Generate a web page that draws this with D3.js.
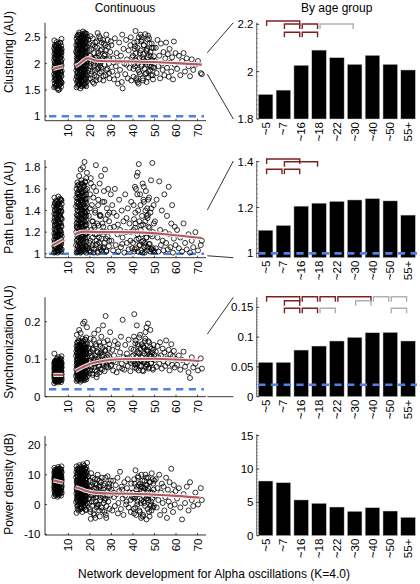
<!DOCTYPE html>
<html><head><meta charset="utf-8">
<script src="https://cdn.jsdelivr.net/npm/d3@7"></script>
<style>body{margin:0;background:#fff} text{font-family:"Liberation Sans",Arial,Helvetica,sans-serif;fill:#000}</style>
</head><body>
<svg id="c" width="420" height="584"></svg>
<script>
// ---------- DATA ----------
const xTicks = [10,20,30,40,50,60,70];
const ageGroups = ["~5","~7","~16","~18","~22","~30","~40","~50","55+"];

// subject ages (shared by the four measures)
const ages = [
// children
3.4,4.2,5.0,5.8,6.6, 3.7,4.5,5.3,6.1,6.9, 3.5,4.3,5.2,6.0,6.7, 3.6,4.4,5.1,5.9,6.8,
3.4,4.3,5.0,5.8,6.6, 3.8,4.6,5.4,6.2,6.9, 3.5,4.2,5.1,5.9,6.7, 3.6,4.5,5.3,6.1,6.8,
3.7,4.4,5.2,6.0,6.6, 3.4,4.2,5.0,5.8,6.9, 3.6,4.6,5.3,6.2,6.7, 3.5,4.3,5.1,5.9,6.8,
3.8,4.5,5.4,6.1,6.6, 3.4,4.4,5.0,6.0,6.9, 3.7,4.2,5.2,5.8,6.7, 3.5,4.6,5.3,6.1,6.8,
// adolescents
13.8,14.7,15.6,16.5,17.4,18.3, 14.1,15.0,15.9,16.8,17.7,18.6, 13.6,14.5,15.4,16.3,17.2,18.1,
13.9,14.8,15.7,16.6,17.5,18.4, 14.2,15.1,16.0,16.9,17.8,18.7, 13.7,14.6,15.5,16.4,17.3,18.2,
14.0,14.9,15.8,16.7,17.6,18.5, 13.8,14.8,15.6,16.6,17.4,18.4, 14.1,14.6,15.9,16.4,17.7,18.2,
13.9,14.7,15.7,16.5,17.5,18.3, 14.2,15.0,16.0,16.8,17.8,18.6, 13.6,14.5,15.4,16.3,17.2,18.1,
14.0,14.8,15.8,16.6,17.6,18.4, 13.7,14.9,15.5,16.7,17.3,18.5, 14.1,14.6,15.9,16.4,17.7,18.2,
13.8,15.1,15.6,16.9,17.4,18.7, 14.2,14.7,16.0,16.5,17.8,18.3, 13.9,15.0,15.7,16.8,17.5,18.6,
// 20-30
19.2,19.5,19.8,20.1,20.3,20.6,20.9,21.2,21.4,21.7,22.0,22.3,22.5,22.8,23.1,23.4,23.6,23.9,24.2,24.5,
24.8,25.0,25.3,25.6,25.9,26.2,26.5,26.8,27.0,27.3,27.6,27.9,28.2,28.5,28.8,29.1,29.4,29.7,
20.4,21.9,23.3,24.7,26.1,27.4,28.9,
// 30-40
30.0,30.4,30.8,31.2,31.6,32.0,32.4,32.8,33.2,33.6,34.0,34.4,34.8,35.2,35.6,36.0,36.4,36.8,37.2,37.6,
38.0,38.4,38.8,39.2,39.6,31.0,33.0,35.0,37.0,39.0,
// 40-50
40.0,40.3,40.6,40.9,41.2,41.5,41.8,42.1,42.4,42.7,43.0,43.3,43.6,43.9,44.2,44.5,44.8,45.1,45.4,45.7,
46.0,46.3,46.6,46.9,47.2,47.5,47.8,48.1,48.4,48.7,49.0,49.3,49.6,49.9,40.5,41.4,42.6,43.8,44.9,46.1,
47.0,48.2,49.4,41.0,45.5,
// 50-60
50.2,50.6,51.0,51.4,51.8,52.2,52.6,53.0,53.4,53.8,54.2,54.6,55.0,55.4,55.8,56.2,56.6,57.0,57.4,57.8,
58.2,58.6,59.0,59.4,59.8,
// 60-72
60.5,61.3,62.0,62.8,63.5,64.2,65.0,65.8,66.5,67.3,68.0,69.0,70.2,71.5,72.0,
// additional children
3.9,4.7,5.5,6.4, 4.0,4.8,5.6,6.3, 3.8,4.6,5.4,6.5, 3.9,4.8,5.5,6.3, 4.0,4.7,5.6,6.4,
3.8,4.6,5.4,6.5, 3.9,4.8,5.5,6.3, 4.0,4.7,5.6,6.4, 3.8,4.6,5.5,6.5, 3.9,4.7,5.4,6.3,
// additional adolescents
14.3,15.2,16.1,17.0,17.9, 14.4,15.3,16.2,17.1,18.0, 14.2,15.1,16.0,16.9,17.8, 14.3,15.3,16.1,17.1,17.9,
14.4,15.2,16.2,17.0,18.0, 14.2,15.1,16.0,16.9,17.8, 14.3,15.2,16.1,17.0,17.9, 14.4,15.3,16.2,17.1,18.0,
14.2,15.1,16.0,16.9,17.8, 14.3,15.3,16.1,17.1,17.9, 14.4,15.2,16.2,17.0,18.0, 14.2,15.1,16.0,16.9,17.8,
// additional 20-30
19.4,19.7,20.0,20.2,20.5,20.8,21.0,21.3,21.6,21.8,22.1,22.4,22.7,22.9,23.2,23.5,23.8,24.0,24.3,24.6,
24.9,25.2,25.5,25.8,26.3,26.7,27.2,27.7,28.3,29.0,
// additional 40-50
40.2,40.8,41.1,41.6,42.0,42.3,42.9,43.2,43.5,44.0,44.4,44.7,45.0,45.3,45.8,46.2,46.5,46.8,47.1,47.4,
47.7,48.0,48.5,48.9,49.2,49.7,42.2,44.1,46.4,48.6
];

const clustering = [
1.55,1.58,1.53,1.60,1.56, 1.62,1.59,1.66,1.61,1.64, 1.68,1.72,1.67,1.70,1.65, 1.74,1.71,1.77,1.73,1.76,
1.80,1.78,1.83,1.79,1.82, 1.85,1.88,1.84,1.87,1.86, 1.91,1.89,1.93,1.90,1.94, 1.96,1.99,1.95,1.98,1.97,
2.02,2.00,2.04,2.01,2.03, 2.07,2.09,2.06,2.10,2.08, 2.12,2.15,2.13,2.11,2.16, 2.18,2.17,2.20,2.19,2.21,
2.24,2.22,2.26,2.25,2.23, 2.29,2.31,2.28,2.30,2.27, 2.35,2.33,2.38,1.51,2.34, 2.44,2.41,1.50,2.39,2.47,
1.55,1.60,1.53,1.58,1.62,1.57, 1.64,1.61,1.67,1.63,1.59,1.66, 1.70,1.68,1.72,1.69,1.73,1.71,
1.76,1.74,1.78,1.75,1.79,1.77, 1.82,1.80,1.84,1.81,1.85,1.83, 1.87,1.89,1.86,1.90,1.88,1.91,
1.93,1.95,1.92,1.96,1.94,1.97, 1.99,2.01,1.98,2.02,2.00,2.03, 2.05,2.07,2.04,2.08,2.06,2.09,
2.11,2.13,2.10,2.14,2.12,2.15, 2.17,2.19,2.16,2.20,2.18,2.21, 2.23,2.25,2.22,2.26,2.24,2.27,
2.29,2.31,2.28,2.32,2.30,2.33, 2.35,2.37,2.34,2.38,2.36,2.39, 2.41,2.43,2.40,2.44,2.42,2.45,
2.47,2.49,2.46,2.50,2.48,2.51, 2.53,2.55,2.52,2.56,2.54,2.57, 2.20,2.59,1.95,2.61,2.58,2.05,
2.45,1.70,2.25,1.95,2.52,1.80,2.10,2.35,1.65,2.00,2.20,1.88,2.40,2.05,1.75,2.30,2.58,1.92,2.15,1.70,
2.48,2.02,1.85,2.27,2.10,1.68,2.38,1.98,2.18,1.78,2.55,2.08,1.90,2.32,2.00,1.72,2.22,2.42,
2.05,1.62,2.12,1.96,2.45,2.25,1.82,
2.35,1.85,2.10,1.70,2.48,1.95,2.20,1.78,2.05,2.40,1.88,2.15,1.65,1.53,2.28,2.00,1.80,2.45,2.08,1.72,
2.25,1.92,2.35,1.68,2.12,2.02,1.62,2.55,1.98,2.50,
2.15,1.75,2.40,1.95,2.62,2.05,1.68,2.30,1.88,2.50,2.10,1.80,2.25,1.98,2.45,1.72,2.18,2.35,1.90,2.56,
2.02,1.65,2.28,2.12,1.85,2.48,1.96,2.22,1.78,2.38,2.06,1.70,2.30,1.92,2.00,2.20,1.62,2.42,2.08,1.82,
2.53,2.14,1.93,2.33,2.04,
2.05,2.30,1.82,2.45,1.95,2.15,1.72,2.38,2.00,1.88,2.22,1.78,2.10,2.40,1.92,2.18,1.75,2.28,2.02,1.85,
2.12,1.70,2.42,1.98,2.20,
1.90,2.15,1.78,2.05,2.20,1.85,2.10,1.95,1.76,2.08,1.88,1.98,2.05,1.82,1.80,
1.57,1.60,1.58,1.62, 1.69,1.65,1.71,1.67, 1.77,1.80,1.75,1.78, 1.86,1.83,1.89,1.85, 1.94,1.92,1.97,1.93,
2.02,2.05,2.00,2.04, 2.11,2.09,2.14,2.12, 2.19,2.22,2.17,2.21, 2.27,2.25,2.30,2.28, 2.33,2.36,2.31,2.40,
1.58,1.62,1.57,1.60,1.63, 1.67,1.70,1.66,1.69,1.72, 1.75,1.78,1.74,1.77,1.80, 1.84,1.87,1.83,1.86,1.89,
1.92,1.95,1.91,1.94,1.97, 2.01,2.04,2.00,2.03,2.06, 2.09,2.12,2.08,2.11,2.14, 2.18,2.21,2.17,2.20,2.23,
2.26,2.29,2.25,2.28,2.31, 2.35,2.38,2.34,2.37,2.40, 2.43,2.46,2.42,2.45,2.48, 2.52,2.55,2.50,2.54,2.57,
1.88,2.38,2.15,1.72,2.00,2.28,1.85,2.48,2.08,1.95,1.78,2.32,2.12,1.68,2.42,1.90,2.20,2.02,2.52,1.82,
2.25,1.92,2.40,2.06,1.76,2.15,2.35,1.88,2.45,2.10,
1.90,2.28,2.08,1.72,2.42,2.00,1.84,2.20,2.55,1.95,2.12,1.68,2.35,2.04,1.80,2.26,1.98,2.46,1.74,2.16,
2.38,1.88,2.02,2.30,1.78,2.14,1.65,2.50,2.24,1.94
];

const pathLength = [
1.01,1.02,1.01,1.03,1.02, 1.04,1.05,1.03,1.06,1.04, 1.07,1.06,1.08,1.07,1.09, 1.10,1.09,1.11,1.10,1.12,
1.13,1.14,1.12,1.15,1.13, 1.16,1.17,1.15,1.18,1.16, 1.19,1.20,1.18,1.21,1.19, 1.23,1.22,1.24,1.22,1.25,
1.26,1.27,1.25,1.28,1.26, 1.30,1.29,1.31,1.29,1.32, 1.33,1.34,1.32,1.35,1.33, 1.37,1.36,1.38,1.36,1.39,
1.40,1.41,1.39,1.42,1.40, 1.44,1.43,1.45,1.44,1.46, 1.47,1.49,1.46,1.48,1.50, 1.52,1.48,1.53,1.51,1.49,
1.01,1.02,1.01,1.03,1.02,1.01, 1.04,1.05,1.03,1.06,1.04,1.05, 1.08,1.07,1.09,1.08,1.10,1.07,
1.12,1.11,1.13,1.12,1.14,1.11, 1.16,1.15,1.17,1.16,1.18,1.15, 1.20,1.19,1.21,1.20,1.22,1.19,
1.24,1.23,1.25,1.24,1.26,1.23, 1.28,1.27,1.29,1.28,1.30,1.27, 1.32,1.31,1.33,1.32,1.34,1.31,
1.36,1.35,1.37,1.36,1.38,1.35, 1.40,1.39,1.41,1.40,1.42,1.39, 1.44,1.43,1.45,1.44,1.46,1.43,
1.48,1.47,1.49,1.48,1.50,1.47, 1.52,1.51,1.53,1.52,1.54,1.51, 1.56,1.55,1.57,1.56,1.58,1.55,
1.60,1.59,1.61,1.62,1.63,1.60, 1.66,1.64,1.68,1.65,1.67,1.70, 1.25,1.72,1.78,1.80,1.85,1.75,
1.05,1.35,1.10,1.55,1.02,1.22,1.45,1.08,1.30,1.62,1.04,1.18,1.40,1.82,1.12,1.28,1.01,1.50,1.15,1.65,
1.06,1.35,1.20,1.03,1.48,1.25,1.58,1.10,1.78,1.32,1.02,1.42,1.16,1.60,1.07,1.38,1.24,1.55,
1.70,1.26,1.09,1.36,1.05,1.14,1.30,
1.12,1.45,1.03,1.25,1.60,1.08,1.35,1.18,1.02,1.50,1.22,1.06,1.40,1.15,1.30,1.01,1.55,1.20,1.10,1.42,
1.04,1.28,1.12,1.48,1.05,1.38,1.27,1.09,1.33,1.20,
1.10,1.45,1.02,1.62,1.28,1.05,1.72,1.18,1.40,1.83,1.08,1.55,1.22,1.03,1.35,1.65,1.12,1.48,1.01,1.30,
1.58,1.15,1.42,1.06,1.25,1.52,1.09,1.38,1.68,1.04,1.84,1.20,1.45,1.02,1.32,1.60,1.14,1.26,1.50,1.07,
1.36,1.18,1.03,1.24,1.10,
1.30,1.05,1.50,1.15,1.02,1.67,1.22,1.08,1.40,1.12,1.03,1.55,1.20,1.10,1.35,1.04,1.62,1.18,1.06,1.28,
1.45,1.01,1.14,1.25,1.08,
1.22,1.05,1.15,1.02,1.28,1.10,1.04,1.18,1.01,1.12,1.06,1.20,1.03,1.08,1.12,
1.02,1.03,1.02,1.04, 1.07,1.08,1.06,1.09, 1.12,1.11,1.13,1.12, 1.17,1.16,1.18,1.17, 1.22,1.21,1.23,1.21,
1.27,1.28,1.26,1.28, 1.31,1.32,1.30,1.33, 1.36,1.37,1.35,1.38, 1.41,1.42,1.40,1.43, 1.46,1.45,1.47,1.50,
1.02,1.03,1.02,1.04,1.03, 1.07,1.08,1.06,1.09,1.07, 1.13,1.12,1.14,1.13,1.15, 1.18,1.19,1.17,1.20,1.18,
1.24,1.23,1.25,1.24,1.26, 1.29,1.30,1.28,1.31,1.29, 1.35,1.34,1.36,1.35,1.37, 1.40,1.41,1.39,1.42,1.40,
1.46,1.45,1.47,1.46,1.48, 1.51,1.52,1.50,1.53,1.51, 1.57,1.56,1.58,1.57,1.59, 1.63,1.62,1.65,1.64,1.66,
1.20,1.03,1.42,1.12,1.65,1.05,1.30,1.15,1.52,1.01,1.24,1.38,1.08,1.58,1.18,1.02,1.45,1.26,1.10,1.35,
1.04,1.72,1.14,1.28,1.06,1.48,1.20,1.03,1.36,1.12,
1.22,1.04,1.38,1.13,1.55,1.02,1.30,1.08,1.45,1.18,1.01,1.27,1.62,1.06,1.40,1.15,1.03,1.33,1.50,1.09,
1.24,1.02,1.42,1.16,1.05,1.28,1.75,1.11,1.35,1.04
];

const synchronization = [
0.036,0.040,0.038,0.042,0.039, 0.044,0.041,0.046,0.043,0.045, 0.048,0.050,0.047,0.049,0.051, 0.053,0.052,0.055,0.054,0.052,
0.057,0.056,0.058,0.055,0.059, 0.060,0.062,0.061,0.063,0.060, 0.064,0.066,0.065,0.063,0.067, 0.068,0.069,0.067,0.070,0.068,
0.072,0.071,0.073,0.070,0.074, 0.075,0.077,0.076,0.074,0.078, 0.079,0.080,0.078,0.081,0.079, 0.083,0.082,0.084,0.083,0.085,
0.087,0.086,0.088,0.086,0.089, 0.090,0.092,0.091,0.093,0.090, 0.095,0.094,0.097,0.096,0.099, 0.115,0.101,0.105,0.098,0.108,
0.042,0.045,0.040,0.047,0.044,0.046, 0.049,0.051,0.048,0.052,0.050,0.053, 0.055,0.057,0.054,0.058,0.056,0.059,
0.061,0.063,0.060,0.064,0.062,0.065, 0.067,0.069,0.066,0.070,0.068,0.071, 0.073,0.075,0.072,0.076,0.074,0.077,
0.079,0.081,0.078,0.082,0.080,0.083, 0.085,0.087,0.084,0.088,0.086,0.089, 0.091,0.093,0.090,0.094,0.092,0.095,
0.097,0.099,0.096,0.100,0.098,0.101, 0.103,0.105,0.102,0.106,0.104,0.107, 0.109,0.111,0.108,0.112,0.110,0.113,
0.115,0.117,0.114,0.118,0.116,0.119, 0.121,0.123,0.120,0.124,0.122,0.125, 0.128,0.130,0.127,0.131,0.129,0.132,
0.135,0.138,0.134,0.140,0.137,0.142, 0.145,0.150,0.148,0.155,0.152,0.158, 0.165,0.178,0.170,0.195,0.200,0.185,
0.075,0.130,0.062,0.095,0.155,0.080,0.110,0.058,0.125,0.088,0.168,0.070,0.102,0.140,0.052,0.092,0.118,0.178,0.083,0.065,
0.135,0.098,0.160,0.072,0.112,0.090,0.145,0.068,0.122,0.215,0.085,0.105,0.150,0.078,0.128,0.095,0.172,0.082,
0.120,0.100,0.060,0.115,0.190,0.093,0.108,
0.085,0.125,0.070,0.110,0.148,0.092,0.065,0.132,0.100,0.078,0.118,0.160,0.088,0.205,0.105,0.072,0.138,0.095,0.115,0.082,
0.152,0.098,0.068,0.128,0.108,0.095,0.140,0.075,0.102,0.090,
0.095,0.125,0.220,0.078,0.150,0.105,0.190,0.088,0.135,0.070,0.115,0.165,0.098,0.082,0.140,0.110,0.068,0.130,0.092,0.155,
0.102,0.185,0.085,0.120,0.075,0.145,0.108,0.178,0.090,0.128,0.100,0.072,0.138,0.112,0.160,0.083,0.118,0.097,0.132,0.080,
0.195,0.106,0.125,0.087,0.148,
0.098,0.120,0.080,0.135,0.105,0.088,0.145,0.110,0.075,0.128,0.095,0.118,0.082,0.150,0.102,0.090,0.125,0.070,0.112,0.140,
0.085,0.108,0.122,0.078,0.100,
0.085,0.110,0.072,0.098,0.120,0.080,0.092,0.065,0.050,0.105,0.078,0.088,0.070,0.102,0.075,
0.040,0.043,0.041,0.044, 0.047,0.049,0.046,0.050, 0.053,0.055,0.052,0.056, 0.059,0.061,0.058,0.062, 0.065,0.067,0.064,0.068,
0.071,0.073,0.070,0.074, 0.077,0.079,0.076,0.080, 0.083,0.085,0.082,0.086, 0.089,0.091,0.088,0.092, 0.095,0.097,0.094,0.102,
0.045,0.048,0.044,0.047,0.050, 0.054,0.057,0.053,0.056,0.059, 0.063,0.066,0.062,0.065,0.068, 0.072,0.075,0.071,0.074,0.077,
0.081,0.084,0.080,0.083,0.086, 0.090,0.093,0.089,0.092,0.095, 0.099,0.102,0.098,0.101,0.104, 0.108,0.111,0.107,0.110,0.113,
0.117,0.120,0.116,0.119,0.122, 0.126,0.129,0.125,0.128,0.131, 0.135,0.138,0.134,0.137,0.140, 0.144,0.148,0.143,0.147,0.152,
0.090,0.115,0.070,0.140,0.085,0.105,0.062,0.128,0.095,0.152,0.078,0.110,0.088,0.135,0.068,0.120,0.100,0.082,0.145,0.092,
0.074,0.118,0.108,0.130,0.086,0.098,0.125,0.080,0.112,0.140,
0.110,0.088,0.142,0.075,0.120,0.098,0.158,0.082,0.128,0.105,0.070,0.135,0.092,0.115,0.172,0.085,0.122,0.100,0.148,0.078,
0.112,0.132,0.090,0.118,0.076,0.102,0.140,0.095,0.125,0.108
];

const powerDensity = [
2.8,3.2,2.6,3.5,3.0, 3.8,4.1,3.6,4.3,3.9, 4.6,4.8,4.4,5.0,4.7, 5.3,5.1,5.5,5.2,5.6,
5.9,6.1,5.8,6.2,6.0, 6.5,6.4,6.7,6.6,6.3, 7.0,7.2,6.9,7.1,7.3, 7.6,7.5,7.8,7.4,7.7,
8.1,8.0,8.3,8.2,7.9, 8.6,8.8,8.5,8.7,8.4, 9.1,9.0,9.3,9.2,8.9, 9.6,9.8,9.5,9.7,9.4,
10.1,10.3,10.0,10.2,9.9, 10.7,10.6,10.9,10.5,10.8, 11.3,11.1,11.5,11.2,11.6, 12.3,11.8,12.6,12.0,12.8,
-2.8,-2.0,-1.5,-2.5,-1.0,-1.8, -0.5,0.0,-0.8,0.3,-0.2,0.5, 0.8,1.2,0.6,1.4,1.0,1.6,
1.9,2.2,1.7,2.4,2.0,2.6, 2.8,3.1,2.7,3.3,2.9,3.5, 3.7,4.0,3.6,4.2,3.8,4.4,
4.6,4.9,4.5,5.1,4.7,5.3, 5.5,5.8,5.4,6.0,5.6,6.2, 6.4,6.7,6.3,6.9,6.5,7.1,
7.3,7.6,7.2,7.8,7.4,8.0, 8.2,8.5,8.1,8.7,8.3,8.9, 9.1,9.4,9.0,9.6,9.2,9.8,
10.0,10.3,9.9,10.5,10.1,10.7, 10.9,11.2,10.8,11.4,11.0,11.6, 11.8,12.1,11.7,12.3,11.9,12.5,
12.8,13.2,12.6,13.5,13.0,14.0, 3.0,5.0,2.0,7.0,4.0,6.0, 8.0,1.0,9.5,2.5,7.5,5.2,
9.5,2.0,6.0,-1.5,4.5,10.5,1.0,7.5,3.0,-3.0,5.5,8.5,-4.5,2.5,6.5,0.0,10.0,4.0,-2.0,8.0,
1.5,5.0,-1.0,9.0,3.5,6.5,0.5,-2.5,7.0,2.0,-4.5,4.5,9.5,1.0,5.5,-1.5,3.0,8.0,
-4.8,3.5,-0.5,6.0,2.5,-3.5,7.0,
5.0,-2.0,8.0,2.5,-0.5,6.5,3.5,9.0,0.5,4.5,11.0,-1.5,6.0,2.0,-3.5,7.5,3.0,0.0,5.5,8.5,
-1.0,4.0,1.5,7.0,2.5,4.0,-3.0,5.0,1.0,-2.5,
4.0,-1.5,8.5,2.0,11.5,-3.5,6.0,1.0,9.5,3.5,-2.0,7.0,0.5,10.0,4.5,-4.0,5.5,2.5,8.0,-0.5,
6.5,-5.0,3.0,9.0,1.5,-2.5,7.5,4.0,0.0,10.5,2.0,-1.0,5.0,8.0,-3.0,3.5,6.5,-4.5,1.0,9.0,
4.5,-0.5,7.0,2.5,5.5,
3.0,8.5,-1.0,5.5,1.5,10.0,-3.5,4.0,7.0,0.5,6.0,-2.0,2.5,9.0,-4.5,5.0,1.0,7.5,-0.5,12.0,
3.5,-2.5,6.5,0.0,4.5,
2.0,5.5,-1.0,-5.0,3.5,0.5,6.0,-2.0,7.5,1.5,-0.5,4.0,0.0,5.5,1.5,
3.3,3.6,3.1,3.9, 4.4,4.2,4.7,4.5, 5.4,5.7,5.3,5.8, 6.4,6.2,6.5,6.8, 7.2,7.5,7.1,7.6,
8.1,8.4,8.0,8.5, 9.0,9.3,8.9,9.4, 9.9,10.2,9.8,10.4, 10.8,11.0,10.6,11.1, 11.7,11.4,12.0,11.9,
-1.5,-1.0,-1.3,-0.6,-1.8, -0.2,0.4,0.0,0.7,0.2, 1.3,1.8,1.1,2.0,1.5, 2.5,3.0,2.3,3.2,2.7,
3.7,4.1,3.5,4.3,3.9, 4.8,5.3,4.6,5.5,5.0, 6.0,6.4,5.8,6.6,6.2, 7.1,7.6,6.9,7.8,7.3,
8.3,8.7,8.1,8.9,8.5, 9.4,9.9,9.2,10.1,9.6, 10.6,11.0,10.4,11.2,10.8, 11.7,12.2,11.5,12.4,11.9,
5.0,0.5,8.0,-2.5,3.0,6.5,-0.5,9.0,2.0,4.5,-3.5,7.0,1.0,5.5,-1.0,8.5,3.5,0.0,6.0,-4.0,
2.5,7.5,4.0,-2.0,5.0,1.5,9.0,-0.5,3.0,6.0,
2.5,7.0,-1.0,5.0,0.0,9.0,3.5,-2.5,6.0,1.5,8.0,-3.5,4.5,0.5,10.0,2.0,6.5,-1.5,5.5,3.0,
-4.0,7.5,1.0,4.0,8.5,-0.5,3.5,6.0,2.0,-2.0
];

// running-average fits (two segments each)
const clusteringFit = [[[3.0,1.90],[7.6,1.95]],
  [[13.3,1.95],[15,1.99],[17,2.06],[19,2.105],[20,2.095],[22,2.065],[25,2.05],[30,2.045],[40,2.04],[50,2.03],[60,2.01],[72,1.98]]];
const pathLengthFit = [[[2.8,1.08],[7.6,1.133]],
  [[13.0,1.18],[16,1.202],[18,1.205],[25,1.2],[35,1.2],[45,1.195],[55,1.18],[65,1.16],[72,1.145]]];
const synchronizationFit = [[[3.0,0.058],[7.6,0.058]],
  [[13.3,0.069],[16,0.077],[19.4,0.086],[25.7,0.095],[33.5,0.1],[50,0.101],[60,0.099],[71,0.095]]];
const powerDensityFit = [[[3.0,8.1],[7.6,7.3]],
  [[13.3,5.8],[16,5.2],[18.5,4.5],[22,4.0],[30,3.7],[40,3.6],[50,3.3],[60,2.9],[71,2.3]]];

// group means
const clusteringBars = [1.904,1.922,2.027,2.091,2.059,2.031,2.069,2.031,2.007];
const pathLengthBars = [1.101,1.122,1.206,1.219,1.227,1.233,1.239,1.229,1.167];
const synchronizationBars = [0.0577,0.0577,0.0783,0.085,0.0935,0.0997,0.1074,0.108,0.0935];
const powerDensityBars = [8.2,7.95,5.36,4.86,4.3,3.66,4.2,3.7,2.76];

// significance brackets: [from group, to group, row, kind]
const clusteringSig = [[0,2,0,"s"],[1,2,1,"s"],[2,3,1,"s"],[3,5,1,"n"],[1,2,2,"s"],[2,3,2,"s"]];
const pathLengthSig = [[0,2,0,"s"],[1,3,1,"s"],[0,1,2,"s"],[1,2,2,"s"]];
const synchronizationSig = [[0,2,0,"s"],[2,3,0,"s"],[3,4,0,"s"],[4,6,0,"s"],[6,7,0,"n"],[7,8,0,"n"],
  [1,2,1,"s"],[5,6,1,"n"],[1,2,2,"s"],[2,3,2,"s"],[3,4,2,"n"],[7,8,2,"n"]];
const powerDensitySig = [];

// chance level (null model)
const clusteringNull = 1, pathLengthNull = 1, synchronizationNull = 0.02;

// ---------- DRAW ----------
const svg = d3.select("#c");
const FONT = 11.5;
const x = d3.scaleLinear().domain([-1,73]).range([44.7,204]);
const xb = d3.scaleBand().domain(ageGroups).range([256.7,417]).paddingInner(0.18).paddingOuter(0.09);
const AXL = 45, AXR = 256.7;
const RED = "#b4585d", BLUE = "#4f80e2", SIG = "#7d2020", NS = "#b0b0b0";

const panels = [
 {label:"Clustering (AU)", labelY:52, vals:clustering, fit:clusteringFit, bars:clusteringBars, sig:clusteringSig,
  L:{d:[0.916,2.777], r:[120.7,22.7], t:[1,1.5,2,2.5]}, R:{d:[1.8,2.2067], r:[119,22.7], t:[1.8,2,2.2], m:0.02},
  nullL:clusteringNull, nullR:null, rows:[21,24,32.3], link:true},
 {label:"Path Length (AU)", labelY:207.5, vals:pathLength, fit:pathLengthFit, bars:pathLengthBars, sig:pathLengthSig,
  L:{d:[0.963,1.868], r:[257.7,160], t:[1,1.2,1.4,1.6,1.8]}, R:{d:[0.981,1.403], r:[257.7,161], t:[1,1.2,1.4], m:0.02},
  nullL:pathLengthNull, nullR:pathLengthNull, rows:[159,161.7,169.3], link:true},
 {label:"Synchronization (AU)", labelY:342, vals:synchronization, fit:synchronizationFit, bars:synchronizationBars, sig:synchronizationSig,
  L:{d:[0,0.265], r:[396.7,297.3], t:[0,0.1,0.2]}, R:{d:[0,0.1668], r:[396.7,297.3], t:[0,0.05,0.1,0.15], m:0.005},
  nullL:synchronizationNull, nullR:synchronizationNull, rows:[296.7,300.7,308.3], link:true},
 {label:"Power density (dB)", labelY:484, vals:powerDensity, fit:powerDensityFit, bars:powerDensityBars, sig:powerDensitySig,
  L:{d:[-10.23,23], r:[535,436], t:[-10,0,10,20]}, R:{d:[0,15.2], r:[535.7,434.3], t:[0,5,10,15], m:0.5},
  nullL:null, nullR:null, rows:[], link:false}
];

svg.append("text").attr("x",125).attr("y",12).attr("text-anchor","middle").style("font-size","12px").text("Continuous");
svg.append("text").attr("x",336.7).attr("y",12).attr("text-anchor","middle").style("font-size","12px").text("By age group");
svg.append("text").attr("x",214).attr("y",578).attr("text-anchor","middle").style("font-size","12px")
   .text("Network development for Alpha oscillations (K=4.0)");

panels.forEach(p => {
  const yL = d3.scaleLinear().domain(p.L.d).range(p.L.r);
  const yR = d3.scaleLinear().domain(p.R.d).range(p.R.r);
  const g = svg.append("g");

  // ---- left: scatter ----
  g.append("text").attr("transform",`translate(12.5,${p.labelY}) rotate(-90)`).attr("text-anchor","middle")
   .style("font-size","12px").text(p.label);

  if (p.nullL !== null) {
    g.append("line").attr("x1",49).attr("x2",204).attr("y1",yL(p.nullL)).attr("y2",yL(p.nullL))
     .attr("stroke",BLUE).attr("stroke-width",2.6).attr("stroke-dasharray","7.3,5.4");
  }
  g.append("g").selectAll("circle").data(ages.map((a,i)=>[a,p.vals[i]])).join("circle")
   .attr("cx",d=>x(d[0])).attr("cy",d=>yL(d[1])).attr("r",2.5)
   .attr("fill","none").attr("stroke","#000").attr("stroke-width",0.8);

  const line = d3.line().x(d=>x(d[0])).y(d=>yL(d[1])).curve(d3.curveMonotoneX);
  p.fit.forEach(seg => {
    g.append("path").attr("d",line(seg)).attr("fill","none").attr("stroke","#fff").attr("stroke-width",4.2).attr("stroke-opacity",0.9);
    g.append("path").attr("d",line(seg)).attr("fill","none").attr("stroke",RED).attr("stroke-width",2.1);
  });

  // axes
  g.append("line").attr("x1",AXL).attr("x2",AXL).attr("y1",p.L.r[0]).attr("y2",p.L.r[1]).attr("stroke","#000").attr("stroke-width",0.8);
  g.append("line").attr("x1",AXL).attr("x2",206).attr("y1",p.L.r[0]).attr("y2",p.L.r[0]).attr("stroke","#000").attr("stroke-width",0.8);
  p.L.t.forEach(t => {
    g.append("line").attr("x1",AXL).attr("x2",AXL+2).attr("y1",yL(t)).attr("y2",yL(t)).attr("stroke","#000").attr("stroke-width",0.7);
    g.append("text").attr("x",40.5).attr("y",yL(t)).attr("dy","0.35em").attr("text-anchor","end").style("font-size",FONT+"px").text(String(t));
  });
  xTicks.forEach(t => {
    g.append("line").attr("x1",x(t)).attr("x2",x(t)).attr("y1",p.L.r[0]).attr("y2",p.L.r[0]-2).attr("stroke","#000").attr("stroke-width",0.7);
    g.append("text").attr("transform",`translate(${x(t)},${p.L.r[0]+3.5}) rotate(-90)`).attr("dy","0.35em")
     .attr("text-anchor","end").style("font-size",FONT+"px").text(String(t));
  });

  // ---- connectors ----
  if (p.link) {
    g.append("line").attr("x1",207.3).attr("y1",yL(p.R.d[1])).attr("x2",233.3).attr("y2",p.R.r[1]).attr("stroke","#000").attr("stroke-width",0.8);
    g.append("line").attr("x1",207.3).attr("y1",yL(p.R.d[0])).attr("x2",233.3).attr("y2",p.R.r[0]).attr("stroke","#000").attr("stroke-width",0.8);
  }

  // ---- right: bars ----
  g.append("g").selectAll("rect").data(ageGroups.map((c,i)=>[c,p.bars[i]])).join("rect")
   .attr("x",d=>xb(d[0])).attr("width",xb.bandwidth())
   .attr("y",d=>yR(d[1])).attr("height",d=>p.R.r[0]-yR(d[1]))
   .attr("fill","#000").attr("stroke","#cfcfcf").attr("stroke-width",0.5);
  if (p.nullR !== null) {
    g.append("line").attr("x1",xb.range()[0]+1.5).attr("x2",417).attr("y1",yR(p.nullR)).attr("y2",yR(p.nullR))
     .attr("stroke",BLUE).attr("stroke-width",2.6).attr("stroke-dasharray","7.3,5.4");
  }
  g.append("line").attr("x1",AXR).attr("x2",AXR).attr("y1",p.R.r[0]).attr("y2",p.R.r[1]).attr("stroke","#333").attr("stroke-width",0.8);
  d3.range(p.R.d[0], p.R.d[1]+1e-9, p.R.m).forEach(v => {
    g.append("line").attr("x1",AXR).attr("x2",AXR+1.5).attr("y1",yR(v)).attr("y2",yR(v)).attr("stroke","#555").attr("stroke-width",0.5);
  });
  p.R.t.forEach(t => {
    g.append("line").attr("x1",AXR).attr("x2",AXR+2.5).attr("y1",yR(t)).attr("y2",yR(t)).attr("stroke","#000").attr("stroke-width",0.7);
    g.append("text").attr("x",253.5).attr("y",yR(t)).attr("dy","0.35em").attr("text-anchor","end").style("font-size",FONT+"px").text(String(t));
  });
  ageGroups.forEach(c => {
    g.append("text").attr("transform",`translate(${xb(c)+xb.bandwidth()/2},${p.R.r[0]+3}) rotate(-90)`).attr("dy","0.35em")
     .attr("text-anchor","end").style("font-size",FONT+"px").text(c);
  });

  // significance brackets
  p.sig.forEach(s => {
    const x1 = xb(ageGroups[s[0]]) + xb.bandwidth()/2 + 1;
    const x2 = xb(ageGroups[s[1]]) + xb.bandwidth()/2 - 1.5;
    const yy = p.rows[s[2]];
    g.append("path").attr("d",`M${x1},${yy+5}V${yy}H${x2}V${yy+5}`).attr("fill","none")
     .attr("stroke", s[3]==="s" ? SIG : NS).attr("stroke-width",1.4);
  });
});
</script>
</body></html>
